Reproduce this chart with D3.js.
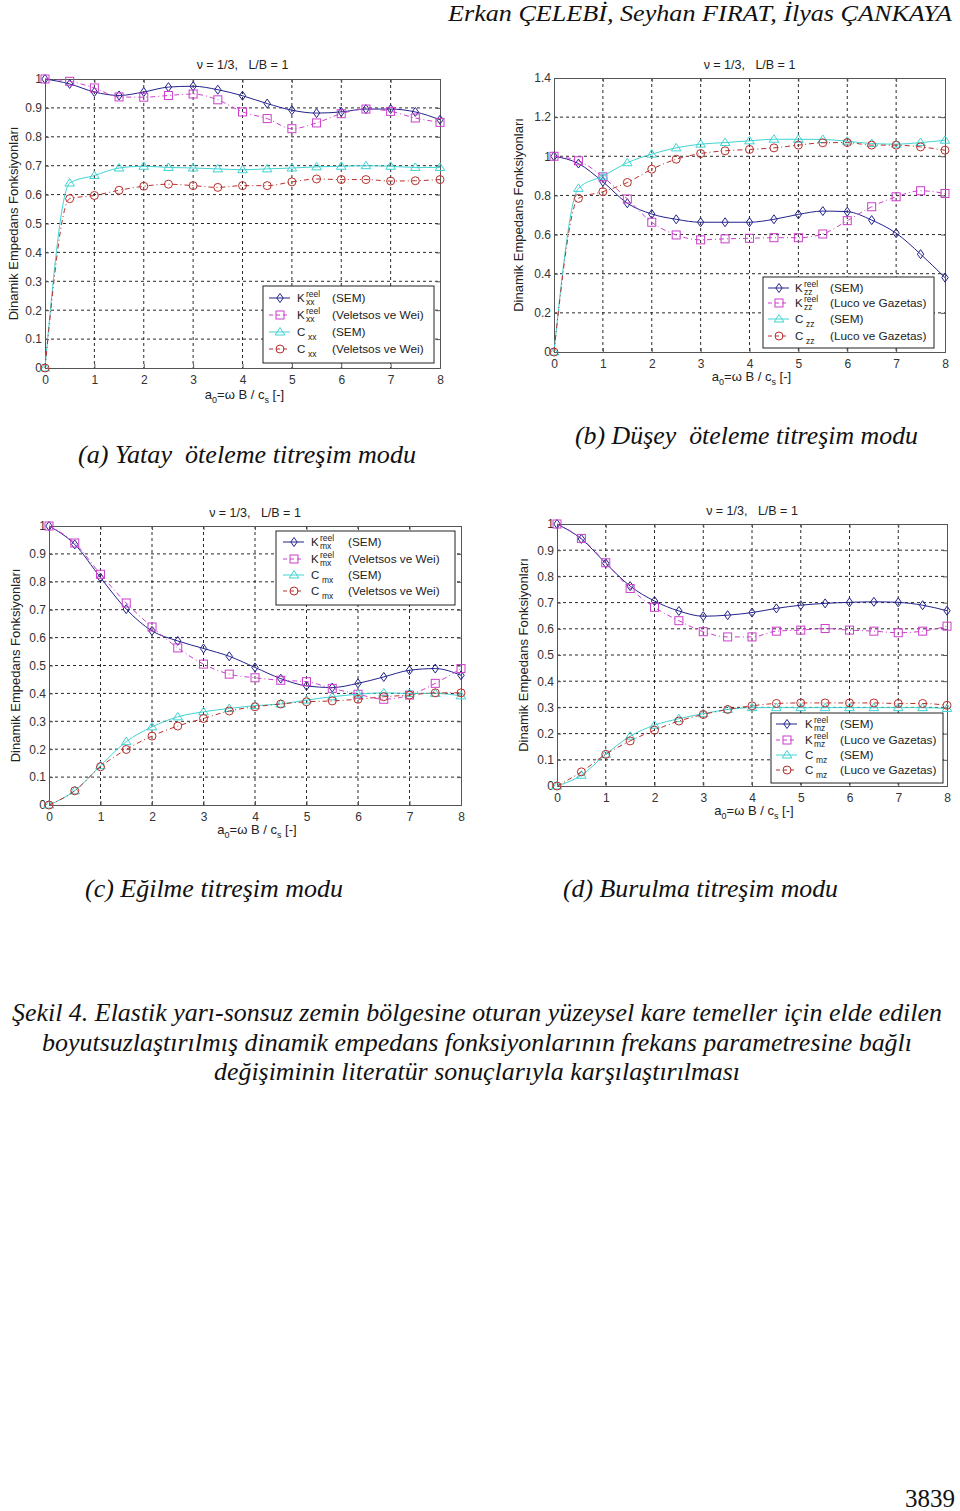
<!DOCTYPE html>
<html>
<head>
<meta charset="utf-8">
<script src="https://cdn.jsdelivr.net/npm/d3@7"></script>
<style>
body { margin: 0; background: #fff; }
svg { display: block; }
text { white-space: pre; }
</style>
</head>
<body>
<div class="container"></div>
<script>
// frekans parametresi a0
var a0 = [0, 0.5, 1, 1.5, 2, 2.5, 3, 3.5, 4, 4.5, 5, 5.5, 6, 6.5, 7, 7.5, 8];

// (a) yatay oteleme
var kxxSEM = [1.0, 0.983, 0.955, 0.943, 0.955, 0.972, 0.975, 0.963, 0.942, 0.915, 0.892, 0.882, 0.886, 0.896, 0.896, 0.886, 0.859];
var kxxVW  = [1.0, 0.992, 0.969, 0.938, 0.937, 0.943, 0.948, 0.928, 0.886, 0.863, 0.828, 0.848, 0.880, 0.896, 0.888, 0.865, 0.850];
var cxxSEM = [0, 0.640, 0.666, 0.692, 0.698, 0.694, 0.692, 0.689, 0.686, 0.689, 0.692, 0.696, 0.698, 0.700, 0.698, 0.694, 0.694];
var cxxVW  = [0, 0.586, 0.597, 0.615, 0.629, 0.636, 0.631, 0.625, 0.631, 0.631, 0.644, 0.654, 0.652, 0.652, 0.647, 0.648, 0.652];

// (b) dusey oteleme
var kzzSEM = [1.0, 0.963, 0.870, 0.760, 0.705, 0.678, 0.663, 0.663, 0.663, 0.678, 0.703, 0.720, 0.717, 0.674, 0.607, 0.500, 0.380];
var kzzLG  = [1.0, 0.977, 0.895, 0.782, 0.663, 0.598, 0.573, 0.578, 0.581, 0.584, 0.584, 0.603, 0.671, 0.742, 0.793, 0.824, 0.810];
var czzSEM = [0, 0.836, 0.899, 0.967, 1.011, 1.043, 1.062, 1.070, 1.079, 1.087, 1.087, 1.086, 1.077, 1.065, 1.062, 1.070, 1.082];
var czzLG  = [0, 0.785, 0.819, 0.866, 0.934, 0.985, 1.014, 1.028, 1.035, 1.043, 1.057, 1.069, 1.070, 1.057, 1.057, 1.048, 1.031];

// (c) egilme
var kmxSEM = [1.0, 0.934, 0.815, 0.702, 0.624, 0.588, 0.561, 0.533, 0.493, 0.453, 0.427, 0.421, 0.436, 0.459, 0.483, 0.489, 0.465];
var kmxVW  = [1.0, 0.939, 0.827, 0.724, 0.638, 0.563, 0.505, 0.469, 0.456, 0.447, 0.442, 0.418, 0.397, 0.379, 0.394, 0.436, 0.489];
var cmxSEM = [0, 0.051, 0.141, 0.227, 0.280, 0.316, 0.334, 0.346, 0.356, 0.362, 0.376, 0.388, 0.397, 0.402, 0.400, 0.400, 0.391];
var cmxVW  = [0, 0.051, 0.137, 0.199, 0.247, 0.283, 0.310, 0.337, 0.352, 0.362, 0.370, 0.373, 0.379, 0.388, 0.394, 0.402, 0.402];

// (d) burulma
var kmzSEM = [1.0, 0.943, 0.850, 0.763, 0.706, 0.668, 0.648, 0.652, 0.662, 0.678, 0.690, 0.697, 0.701, 0.703, 0.701, 0.690, 0.669];
var kmzLG  = [1.0, 0.945, 0.852, 0.754, 0.682, 0.631, 0.589, 0.569, 0.569, 0.591, 0.595, 0.601, 0.595, 0.591, 0.585, 0.591, 0.610];
var cmzSEM = [0, 0.041, 0.121, 0.190, 0.232, 0.257, 0.276, 0.292, 0.299, 0.299, 0.299, 0.299, 0.299, 0.299, 0.299, 0.299, 0.296];
var cmzLG  = [0, 0.054, 0.121, 0.172, 0.213, 0.248, 0.273, 0.292, 0.306, 0.315, 0.317, 0.317, 0.317, 0.317, 0.315, 0.315, 0.308];

var xTicks = [0, 1, 2, 3, 4, 5, 6, 7, 8];
var yTicks10 = [0, 0.1, 0.2, 0.3, 0.4, 0.5, 0.6, 0.7, 0.8, 0.9, 1];
var yTicks14 = [0, 0.2, 0.4, 0.6, 0.8, 1, 1.2, 1.4];

var captions = ["(a) Yatay  öteleme titreşim modu", "(b) Düşey  öteleme titreşim modu",
	"(c) Eğilme titreşim modu", "(d) Burulma titreşim modu"];
var figCaption = ["Şekil 4. Elastik yarı-sonsuz zemin bölgesine oturan yüzeysel kare temeller için elde edilen",
	"boyutsuzlaştırılmış dinamik empedans fonksiyonlarının frekans parametresine bağlı",
	"değişiminin literatür sonuçlarıyla karşılaştırılması"];

var W = 960, H = 1511;
var sans = "'Liberation Sans', Arial, sans-serif";
var serif = "'Liberation Serif', 'Times New Roman', serif";

var styles = {
	kSEM: {color: "#23238c", marker: "diamond", dash: null},
	kRef: {color: "#cc3fcc", marker: "square", dash: "5,3,1,3"},
	cSEM: {color: "#3fd3d3", marker: "triangle", dash: null},
	cRef: {color: "#b8302c", marker: "circle", dash: "5,3,1,3"}
};

var panels = [
	{left: 45, right: 440, top: 79, bottom: 368, yMax: 1, yTicks: yTicks10,
		sub: "xx", ref: "(Veletsos ve Wei)", data: [kxxSEM, kxxVW, cxxSEM, cxxVW],
		titleY: 69, xLabY: 399, yLabX: 18,
		legend: {x: 263, y: 286, w: 171, h: 77, rows: [298, 315, 332, 349], lx: 269, kx: 297, tx: 332}},
	{left: 554, right: 945, top: 78, bottom: 352, yMax: 1.4, yTicks: yTicks14,
		sub: "zz", ref: "(Luco ve Gazetas)", data: [kzzSEM, kzzLG, czzSEM, czzLG],
		titleY: 69, xLabY: 381, yLabX: 523,
		legend: {x: 763, y: 277, w: 171, h: 71, rows: [288, 303, 319, 336], lx: 768, kx: 795, tx: 830}},
	{left: 49, right: 461, top: 526, bottom: 805, yMax: 1, yTicks: yTicks10,
		sub: "mx", ref: "(Veletsos ve Wei)", data: [kmxSEM, kmxVW, cmxSEM, cmxVW],
		titleY: 517, xLabY: 834, yLabX: 20,
		legend: {x: 276, y: 531, w: 179, h: 74, rows: [542, 559, 575, 591], lx: 283, kx: 311, tx: 348}},
	{left: 557, right: 947, top: 524, bottom: 786, yMax: 1, yTicks: yTicks10,
		sub: "mz", ref: "(Luco ve Gazetas)", data: [kmzSEM, kmzLG, cmzSEM, cmzLG],
		titleY: 515, xLabY: 815, yLabX: 528,
		legend: {x: 771, y: 713, w: 172, h: 70, rows: [724, 740, 755, 770], lx: 776, kx: 805, tx: 840}}
];

var svg = d3.select(".container").append("svg")
	.attr("width", W)
	.attr("height", H);
svg.append("rect").attr("width", W).attr("height", H).attr("fill", "#fff");

function drawMarker(g, type, x, y, color) {
	var m;
	if (type === "diamond") {
		m = g.append("path").attr("d", "M0,-4.5L3.2,0L0,4.5L-3.2,0Z");
	} else if (type === "square") {
		m = g.append("rect").attr("x", -4).attr("y", -4).attr("width", 8).attr("height", 8);
	} else if (type === "triangle") {
		m = g.append("path").attr("d", "M0,-4.5L4.8,3L-4.8,3Z");
	} else {
		m = g.append("circle").attr("r", 4);
	}
	m.attr("transform", "translate(" + x + "," + y + ")")
		.attr("fill", "none")
		.attr("stroke", color)
		.attr("stroke-width", 1);
}

function fmt(d) {
	return d3.format("~g")(d);
}

function drawPanel(p) {
	var x = d3.scaleLinear().domain([0, 8]).range([p.left, p.right]);
	var y = d3.scaleLinear().domain([0, p.yMax]).range([p.bottom, p.top]);
	var g = svg.append("g");

	// grid
	g.selectAll("line.vg").data(xTicks.slice(1, -1)).enter().append("line")
		.attr("x1", function(d) { return x(d); })
		.attr("x2", function(d) { return x(d); })
		.attr("y1", p.top).attr("y2", p.bottom)
		.attr("stroke", "#111").attr("stroke-width", 0.9).attr("stroke-dasharray", "3,3");
	g.selectAll("line.hg").data(p.yTicks.slice(1, -1)).enter().append("line")
		.attr("y1", function(d) { return y(d); })
		.attr("y2", function(d) { return y(d); })
		.attr("x1", p.left).attr("x2", p.right)
		.attr("stroke", "#111").attr("stroke-width", 0.9).attr("stroke-dasharray", "3,3");

	// axes (matlab style, ticks inward)
	g.append("g").attr("transform", "translate(0," + p.bottom + ")")
		.call(d3.axisBottom(x).tickValues(xTicks).tickSize(-4).tickPadding(7).tickFormat(fmt));
	g.append("g").attr("transform", "translate(" + p.left + ",0)")
		.call(d3.axisLeft(y).tickValues(p.yTicks).tickSize(-4).tickPadding(3).tickFormat(fmt));
	g.append("g").attr("transform", "translate(0," + p.top + ")")
		.call(d3.axisTop(x).tickValues(xTicks).tickSize(-4).tickFormat(""));
	g.append("g").attr("transform", "translate(" + p.right + ",0)")
		.call(d3.axisRight(y).tickValues(p.yTicks).tickSize(-4).tickFormat(""));
	g.selectAll(".domain").attr("stroke", "#555");
	g.selectAll(".tick line").attr("stroke", "#555");
	g.selectAll(".tick text").attr("font-family", sans).attr("font-size", 12).attr("fill", "#333");

	// curves
	var keys = ["kSEM", "kRef", "cSEM", "cRef"];
	keys.forEach(function(k, i) {
		var st = styles[k];
		var vals = p.data[i];
		var line = d3.line()
			.x(function(d, j) { return x(a0[j]); })
			.y(function(d) { return y(d); })
			.curve(d3.curveMonotoneX);
		g.append("path").datum(vals)
			.attr("d", line)
			.attr("fill", "none")
			.attr("stroke", st.color)
			.attr("stroke-width", 1)
			.attr("stroke-dasharray", st.dash);
		vals.forEach(function(v, j) {
			drawMarker(g, st.marker, x(a0[j]), y(v), st.color);
		});
	});

	// title
	g.append("text").attr("x", (p.left + p.right) / 2).attr("y", p.titleY)
		.attr("text-anchor", "middle").attr("font-family", sans).attr("font-size", 12.5).attr("fill", "#222")
		.text("ν = 1/3,   L/B = 1");

	// x label
	var xl = g.append("text").attr("x", (p.left + p.right) / 2 + 2).attr("y", p.xLabY)
		.attr("text-anchor", "middle").attr("font-family", sans).attr("font-size", 13).attr("fill", "#222");
	xl.append("tspan").text("a");
	xl.append("tspan").attr("font-size", 9).attr("dy", 4).text("0");
	xl.append("tspan").attr("dy", -4).text("=ω B / c");
	xl.append("tspan").attr("font-size", 9).attr("dy", 4).text("s");
	xl.append("tspan").attr("dy", -4).text(" [-]");

	// y label
	g.append("text")
		.attr("transform", "translate(" + p.yLabX + "," + (p.top + p.bottom) / 2 + ") rotate(-90)")
		.attr("text-anchor", "middle").attr("font-family", sans).attr("font-size", 13).attr("fill", "#222")
		.text("Dinamik Empedans Fonksiyonları");

	// legend
	var L = p.legend;
	var lg = g.append("g");
	lg.append("rect").attr("x", L.x).attr("y", L.y).attr("width", L.w).attr("height", L.h)
		.attr("fill", "#fff").attr("stroke", "#222").attr("stroke-width", 1);
	var labels = [["K", "reel", "(SEM)"], ["K", "reel", p.ref], ["C", null, "(SEM)"], ["C", null, p.ref]];
	keys.forEach(function(k, i) {
		var st = styles[k];
		var ry = L.rows[i];
		lg.append("line").attr("x1", L.lx).attr("x2", L.lx + 21).attr("y1", ry).attr("y2", ry)
			.attr("stroke", st.color).attr("stroke-width", 1).attr("stroke-dasharray", st.dash ? "4,3" : null);
		drawMarker(lg, st.marker, L.lx + 11, ry, st.color);
		var t = labels[i];
		lg.append("text").attr("x", L.kx).attr("y", ry + 4)
			.attr("font-family", sans).attr("font-size", 11.5).attr("fill", "#222").text(t[0]);
		if (t[1]) {
			lg.append("text").attr("x", L.kx + 9).attr("y", ry - 1)
				.attr("font-family", sans).attr("font-size", 8.5).attr("fill", "#222").text(t[1]);
			lg.append("text").attr("x", L.kx + 9).attr("y", ry + 7)
				.attr("font-family", sans).attr("font-size", 8.5).attr("fill", "#222").text(p.sub);
		} else {
			lg.append("text").attr("x", L.kx + 11).attr("y", ry + 8)
				.attr("font-family", sans).attr("font-size", 8.5).attr("fill", "#222").text(p.sub);
		}
		lg.append("text").attr("x", L.tx).attr("y", ry + 4)
			.attr("font-family", sans).attr("font-size", 11.8).attr("fill", "#222").text(t[2]);
	});
}

panels.forEach(drawPanel);

// page texts
svg.append("text").attr("x", 448).attr("y", 21)
	.attr("font-family", serif).attr("font-style", "italic").attr("font-size", 24).attr("fill", "#111")
	.attr("textLength", 504).attr("lengthAdjust", "spacingAndGlyphs")
	.text("Erkan ÇELEBİ, Seyhan FIRAT, İlyas ÇANKAYA");

// caption positions: [x, baseline, width]
var capPos = [[78, 463, 338], [575, 444, 343], [85, 897, 258], [563, 897, 275]];
captions.forEach(function(c, i) {
	svg.append("text").attr("x", capPos[i][0]).attr("y", capPos[i][1])
		.attr("font-family", serif).attr("font-style", "italic").attr("font-size", 25).attr("fill", "#111")
		.attr("textLength", capPos[i][2]).attr("lengthAdjust", "spacingAndGlyphs")
		.text(c);
});

var figCapPos = [[12, 930], [42, 870], [214, 526]];
figCaption.forEach(function(c, i) {
	svg.append("text").attr("x", figCapPos[i][0]).attr("y", 1021 + i * 29.5)
		.attr("font-family", serif).attr("font-style", "italic").attr("font-size", 25.5).attr("fill", "#111")
		.attr("textLength", figCapPos[i][1]).attr("lengthAdjust", "spacingAndGlyphs")
		.text(c);
});

svg.append("text").attr("x", 955).attr("y", 1507).attr("text-anchor", "end")
	.attr("font-family", serif).attr("font-size", 25).attr("fill", "#111")
	.text("3839");
</script>
</body>
</html>
